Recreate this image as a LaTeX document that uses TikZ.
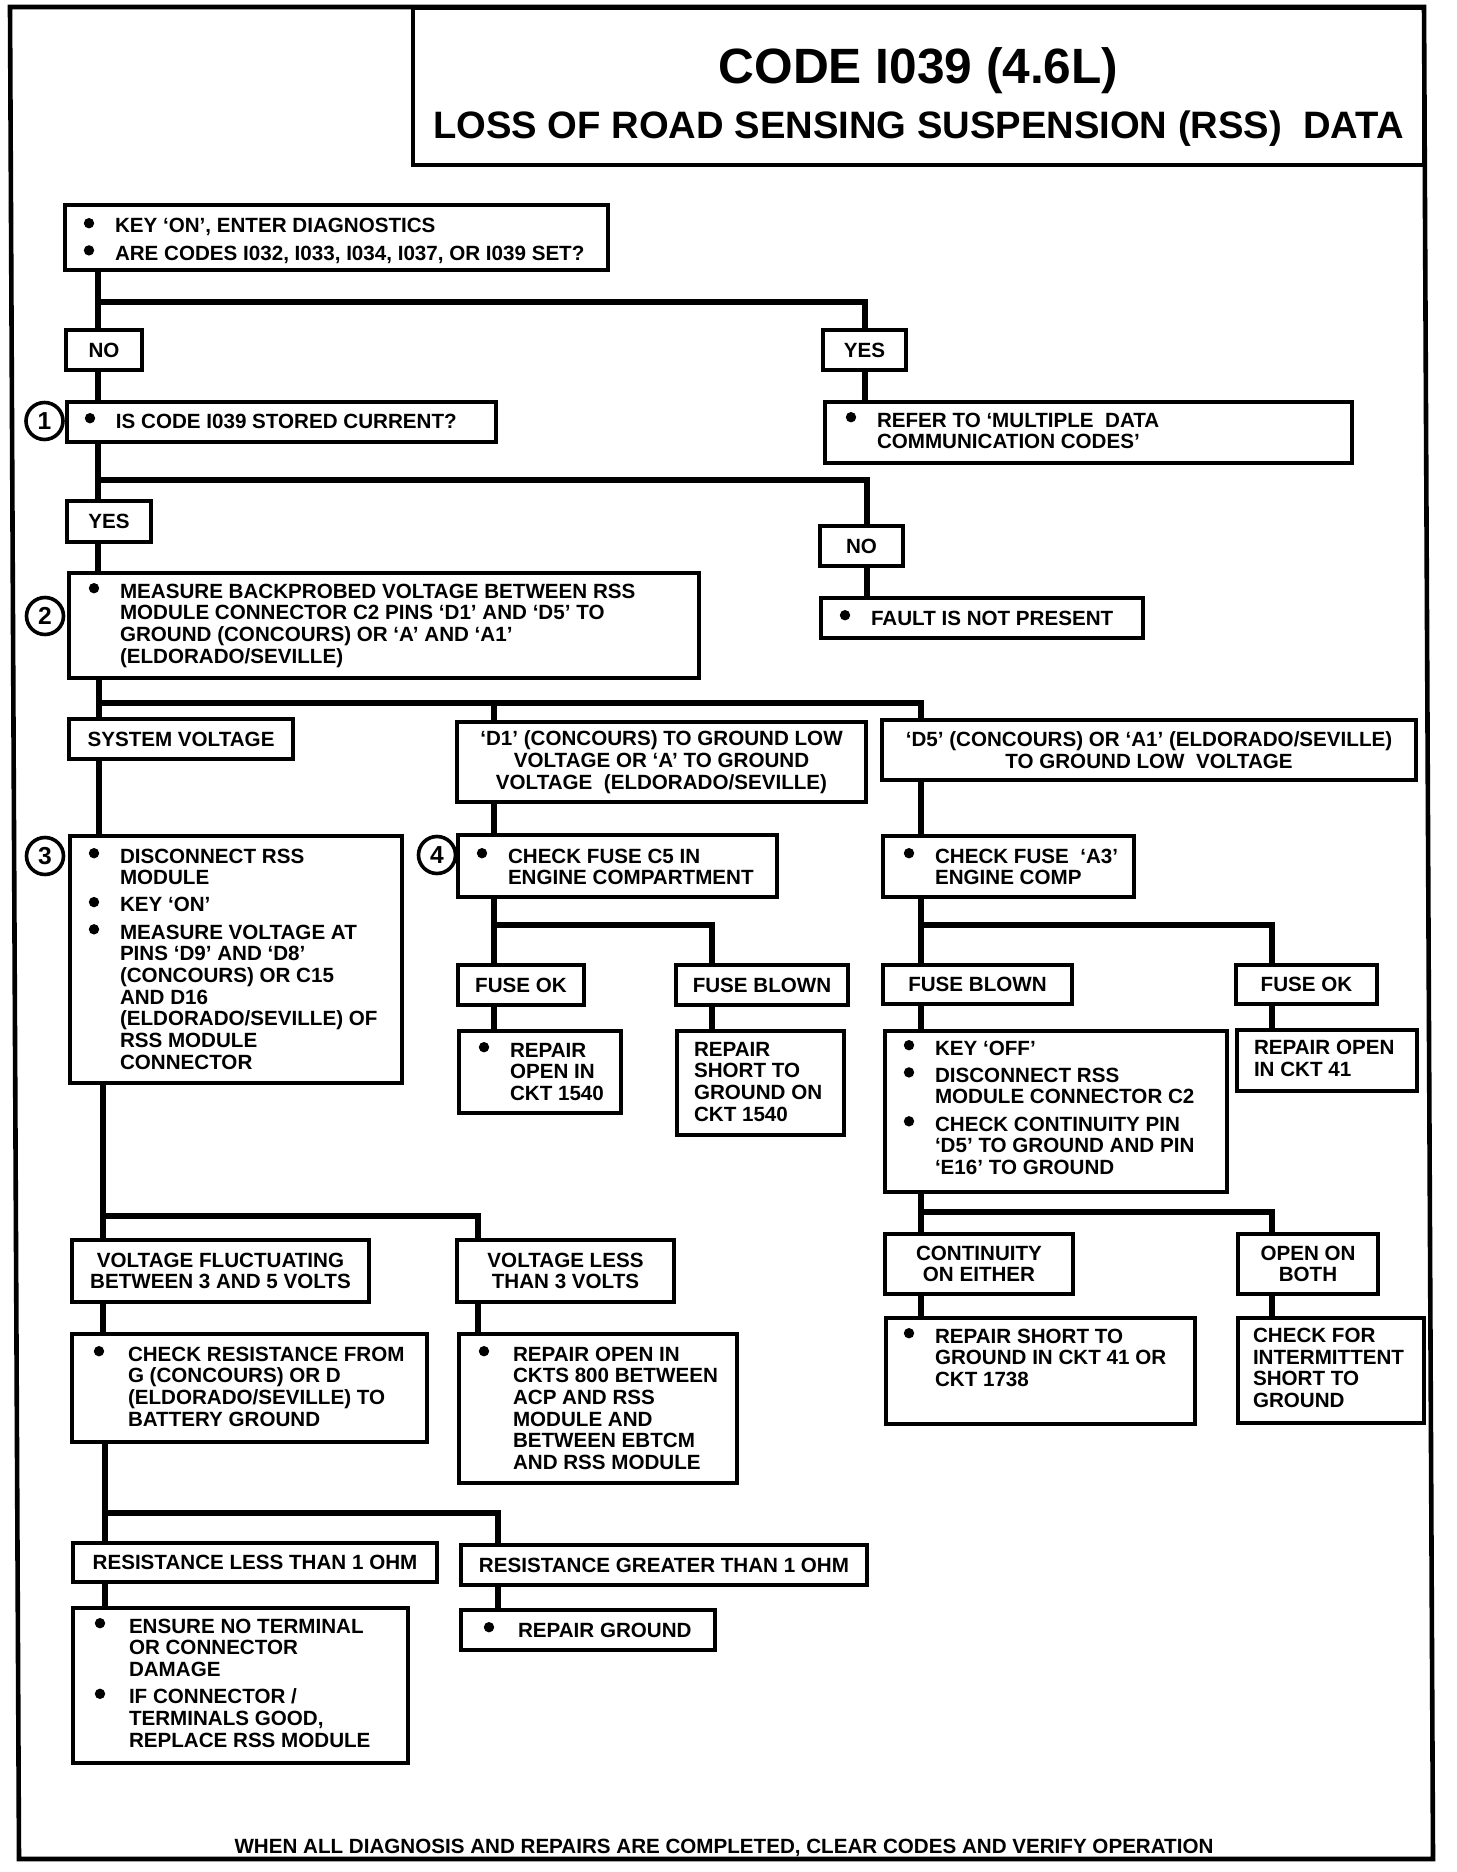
\documentclass[tikz,border=0pt]{standalone}
\usepackage{fontspec}
\setmainfont{Liberation Sans}
\newlength\pxu \setlength\pxu{0.5pt}
\newlength\bgap \setlength\bgap{16pt}
\newcommand{\bbox}[5]{\parbox[c][#2\pxu][t]{#1\pxu}{\vspace*{#3\pxu}\leftskip=#4\pxu\relax\parindent=0pt #5\par}}
\newcommand{\bul}{\tikz[baseline=0pt]\fill (2.6pt,4.9pt) circle[radius=2.6pt];}
\newcommand{\bl}[1]{\noindent\hskip-\bgap\makebox[\bgap][l]{\hspace{0.4pt}\bul}#1\par}
\newcommand{\bsep}{\vspace{2.75pt}}
\newcommand{\wide}{\setlength\bgap{17.5pt}}
\tikzset{
  bx/.style={draw, line width=2pt, inner sep=0pt, outer sep=0pt, anchor=north west},
  cb/.style={bx, align=center},
  conn/.style={line width=3.3pt},
  circ/.style={draw, circle, line width=1.8pt, minimum size=18.5pt, inner sep=0pt, font=\fontsize{12.3pt}{12.3pt}\selectfont\bfseries},
  frame/.style={line width=2.3pt}
}
\begin{document}
\begin{tikzpicture}[x=0.5pt, y=-0.5pt, line join=miter, font=\fontsize{10.3pt}{10.85pt}\selectfont\bfseries]
\useasboundingbox (0,0) rectangle (1456,1872);
\fill[white] (0,0) rectangle (1456,1872);
\draw[frame] (10,7) -- (1424,7) -- (1433,1859) -- (19,1859) -- cycle;
% title
\node[bx] (title) at (413,8) {\parbox[c][78.5pt][t]{505.5pt}{\centering\vspace*{20pt}{\fontsize{24.8pt}{30pt}\selectfont CODE I039 (4.6L)\par}{\fontsize{19.1pt}{27.5pt}\selectfont LOSS OF ROAD SENSING SUSPENSION (RSS)\ \ DATA\par}}};
% first level
\node[bx] (A) at (65,205) {\bbox{543}{65}{13}{50}{\bl{KEY ‘ON’, ENTER DIAGNOSTICS}\bsep\bl{ARE CODES I032, I033, I034, I037, OR I039 SET?}}};
\node[cb, minimum width=38pt, minimum height=20pt] (NO) at (66,330) {NO};
\node[cb, minimum width=41.5pt, minimum height=20pt] (YES1) at (823,330) {YES};
\node[circ] (c1) at (44.5,421) {1};
\node[bx] (B) at (67,402) {\bbox{429}{40}{11}{49}{\bl{IS CODE I039 STORED CURRENT?}}};
\node[bx] (REFER) at (825,402) {\bbox{527}{61}{10}{52}{\bl{REFER TO ‘MULTIPLE\ \ DATA\\COMMUNICATION CODES’}}};
\node[cb, minimum width=42pt, minimum height=20.5pt] (YES2) at (67,501) {YES};
\node[cb, minimum width=41.5pt, minimum height=20pt] (NO2) at (820,526) {NO};
\node[bx] (FAULT) at (821,598) {\bbox{322}{40}{12}{50}{\bl{FAULT IS NOT PRESENT}}};
\node[circ] (c2) at (45,616) {2};
\node[bx] (C) at (69,573) {\bbox{630}{105}{10}{51}{\bl{MEASURE BACKPROBED VOLTAGE BETWEEN RSS\\MODULE CONNECTOR C2 PINS ‘D1’ AND ‘D5’ TO\\GROUND (CONCOURS) OR ‘A’ AND ‘A1’\\(ELDORADO/SEVILLE)}}};
\node[cb, minimum width=112pt, minimum height=20pt] (SV) at (69,719) {SYSTEM VOLTAGE};
\node[cb, minimum width=204.5pt, minimum height=40pt] (D1) at (457,722) {‘D1’ (CONCOURS) TO GROUND LOW\\VOLTAGE OR ‘A’ TO GROUND\\VOLTAGE\ \ (ELDORADO/SEVILLE)};
\node[cb, minimum width=267pt, minimum height=30pt] (D5) at (882,720) {‘D5’ (CONCOURS) OR ‘A1’ (ELDORADO/SEVILLE)\\TO GROUND LOW\ \ VOLTAGE};
% level 3
\node[circ] (c3) at (45,856) {3};
\node[bx] (S3) at (70,836) {\bbox{332}{247}{12}{50}{\bl{DISCONNECT RSS\\MODULE}\bsep\bl{KEY ‘ON’}\bsep\bl{MEASURE VOLTAGE AT\\PINS ‘D9’ AND ‘D8’\\(CONCOURS) OR C15\\AND D16\\(ELDORADO/SEVILLE) OF\\RSS MODULE\\CONNECTOR}}};
\node[circ] (c4) at (437,855) {4};
\node[bx] (S4) at (458,835) {\bbox{319}{62}{13}{50}{\bl{CHECK FUSE C5 IN\\ENGINE COMPARTMENT}}};
\node[bx] (A3) at (883,836) {\bbox{251}{61}{12}{52}{\bl{CHECK FUSE\ \ ‘A3’\\ENGINE COMP}}};
\node[cb, minimum width=63pt, minimum height=20pt] (FOK1) at (458,965) {FUSE OK};
\node[cb, minimum width=86pt, minimum height=20pt] (FB1) at (676,965) {FUSE BLOWN};
\node[cb, minimum width=94.5pt, minimum height=19.5pt] (FB2) at (883,965) {FUSE BLOWN};
\node[cb, minimum width=70.5pt, minimum height=19.5pt] (FOK2) at (1236,965) {FUSE OK};
\node[bx] (R1) at (459,1031) {\bbox{162}{82}{11}{51}{\bl{REPAIR\\OPEN IN\\CKT 1540}}};
\node[bx] (R2) at (677,1031) {\bbox{167}{104}{11}{17}{REPAIR\\SHORT TO\\GROUND ON\\CKT 1540}};
\node[bx] (KO) at (885,1031) {\bbox{342}{161}{9}{50}{\bl{KEY ‘OFF’}\bsep\bl{DISCONNECT RSS\\MODULE CONNECTOR C2}\bsep\bl{CHECK CONTINUITY PIN\\‘D5’ TO GROUND AND PIN\\‘E16’ TO GROUND}}};
\node[bx] (R4) at (1237,1030) {\bbox{180}{61}{10}{17}{REPAIR OPEN\\IN CKT 41}};
\node[cb, minimum width=94pt, minimum height=30pt] (CE) at (885,1234) {CONTINUITY\\ON EITHER};
\node[cb, minimum width=70pt, minimum height=30pt] (OB) at (1238,1234) {OPEN ON\\BOTH};
\node[bx] (RS) at (886,1318) {\bbox{309}{106}{10}{49}{\bl{REPAIR SHORT TO\\GROUND IN CKT 41 OR\\CKT 1738}}};
\node[bx] (CI) at (1238,1318) {\bbox{186}{105}{10}{15}{CHECK FOR\\INTERMITTENT\\SHORT TO\\GROUND}};
% lower left
\node[cb, minimum width=148.5pt, minimum height=31pt] (VF) at (72,1240) {VOLTAGE FLUCTUATING\\BETWEEN 3 AND 5 VOLTS};
\node[cb, minimum width=108.5pt, minimum height=31pt] (VL) at (457,1240) {VOLTAGE LESS\\THAN 3 VOLTS};
\node[bx] (CR) at (72,1334) {\bbox{355}{108}{12}{56}{\wide\bl{CHECK RESISTANCE FROM\\G (CONCOURS) OR D\\(ELDORADO/SEVILLE) TO\\BATTERY GROUND}}};
\node[bx] (RO) at (459,1334) {\bbox{278}{149}{12}{54}{\wide\bl{REPAIR OPEN IN\\CKTS 800 BETWEEN\\ACP AND RSS\\MODULE AND\\BETWEEN EBTCM\\AND RSS MODULE}}};
\node[cb, minimum width=182pt, minimum height=19.5pt] (RL) at (73,1543) {RESISTANCE LESS THAN 1 OHM};
\node[cb, minimum width=203pt, minimum height=20pt] (RG) at (461,1545) {RESISTANCE GREATER THAN 1 OHM};
\node[bx] (EN) at (73,1608) {\bbox{335}{155}{10}{56}{\wide\bl{ENSURE NO TERMINAL\\OR CONNECTOR\\DAMAGE}\bsep\bl{IF CONNECTOR /\\TERMINALS GOOD,\\REPLACE RSS MODULE}}};
\node[bx] (RGd) at (461,1610) {\bbox{254}{40}{12}{57}{\wide\bl{REPAIR GROUND}}};
\node[anchor=base] (foot) at (724,1853) {WHEN ALL DIAGNOSIS AND REPAIRS ARE COMPLETED, CLEAR CODES AND VERIFY OPERATION};
% junctions
\coordinate (j1) at (98,302); \coordinate (k1) at (865,302);
\coordinate (j2) at (98,480); \coordinate (k2) at (867,480);
\coordinate (j3) at (99,703); \coordinate (k3a) at (494,703); \coordinate (k3b) at (921,703);
\coordinate (j4) at (494,925); \coordinate (k4) at (712,925);
\coordinate (j5) at (921,925); \coordinate (k5) at (1272,925);
\coordinate (j6) at (921,1212); \coordinate (k6) at (1272,1212);
\coordinate (j7) at (103,1216); \coordinate (k7) at (478,1216);
\coordinate (j8) at (105,1513); \coordinate (k8) at (498,1513);
% connectors
\draw[conn] (A.south -| j1) -- (NO.north -| j1);
\draw[conn] (j1) -- (k1) -- (YES1.north -| k1);
\draw[conn] (YES1.south -| k1) -- (REFER.north -| k1);
\draw[conn] (NO.south -| j1) -- (B.north -| j1);
\draw[conn] (B.south -| j2) -- (YES2.north -| j2);
\draw[conn] (j2) -- (k2) -- (NO2.north -| k2);
\draw[conn] (NO2.south -| k2) -- (FAULT.north -| k2);
\draw[conn] (YES2.south -| j2) -- (C.north -| j2);
\draw[conn] (C.south -| j3) -- (SV.north -| j3);
\draw[conn] (j3) -- (k3b) -- (D5.north -| k3b);
\draw[conn] (k3a) -- (D1.north -| k3a);
\draw[conn] (SV.south -| j3) -- (S3.north -| j3);
\draw[conn] (D1.south -| k3a) -- (S4.north -| k3a);
\draw[conn] (S4.south -| j4) -- (FOK1.north -| j4);
\draw[conn] (j4) -- (k4) -- (FB1.north -| k4);
\draw[conn] (FOK1.south -| j4) -- (R1.north -| j4);
\draw[conn] (FB1.south -| k4) -- (R2.north -| k4);
\draw[conn] (D5.south -| k3b) -- (A3.north -| k3b);
\draw[conn] (A3.south -| j5) -- (FB2.north -| j5);
\draw[conn] (j5) -- (k5) -- (FOK2.north -| k5);
\draw[conn] (FB2.south -| j5) -- (KO.north -| j5);
\draw[conn] (FOK2.south -| k5) -- (R4.north -| k5);
\draw[conn] (KO.south -| j6) -- (CE.north -| j6);
\draw[conn] (j6) -- (k6) -- (OB.north -| k6);
\draw[conn] (CE.south -| j6) -- (RS.north -| j6);
\draw[conn] (OB.south -| k6) -- (CI.north -| k6);
\draw[conn] (S3.south -| j7) -- (VF.north -| j7);
\draw[conn] (j7) -- (k7) -- (VL.north -| k7);
\draw[conn] (VF.south -| j7) -- (CR.north -| j7);
\draw[conn] (VL.south -| k7) -- (RO.north -| k7);
\draw[conn] (CR.south -| j8) -- (RL.north -| j8);
\draw[conn] (j8) -- (k8) -- (RG.north -| k8);
\draw[conn] (RL.south -| j8) -- (EN.north -| j8);
\draw[conn] (RG.south -| k8) -- (RGd.north -| k8);
\end{tikzpicture}
\end{document}
